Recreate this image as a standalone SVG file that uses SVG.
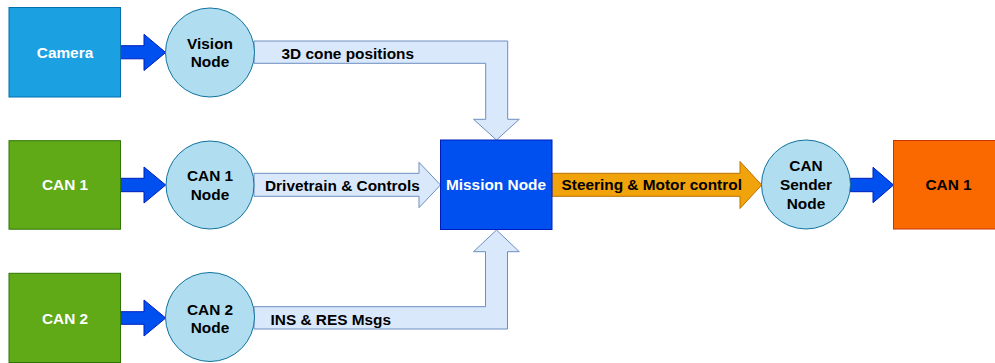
<svg xmlns="http://www.w3.org/2000/svg" width="995" height="363" viewBox="0 0 995 363">
  <style>
    text { font-family: "Liberation Sans", Arial, sans-serif; font-weight: bold; font-size: 15.4px; dominant-baseline: central; }
    .c { text-anchor: middle; }
    .w { fill: #ffffff; }
    .k { fill: #000000; }
    .cam { fill: #1ba1e2; stroke: #006eaf; stroke-width: 1; }
    .can { fill: #60a917; stroke: #2d7600; stroke-width: 1; }
    .out { fill: #fa6800; stroke: #c73500; stroke-width: 1; }
    .mis { fill: #0050ef; stroke: #001dbc; stroke-width: 1; }
    .ros { fill: #b1ddf0; stroke: #10739e; stroke-width: 1; }
    .big { fill: #0050ef; stroke: #001dbc; stroke-width: 1; }
    .msg { fill: #dae8fc; stroke: #6c8ebf; stroke-width: 1; }
    .cmd { fill: #f0a30a; stroke: #bd7000; stroke-width: 1; }
  </style>

  <!-- connectors -->
  <g id="connectors">
    <path class="big" d="M120,45.7 H144 V34.3 L165.7,52.5 L144,70.5 V58.8 H120 Z"/>
    <path class="big" d="M120,178.3 H144 V167 L165.7,185 L144,203 V191.7 H120 Z"/>
    <path class="big" d="M120,311.7 H144 V300 L165.7,318 L144,336 V324.3 H120 Z"/>
    <path class="big" d="M850.5,178.3 H873 V167.3 L893.5,185 L873,202.7 V191.7 H850.5 Z"/>
    <path class="msg" d="M254,41 H507.7 V119.3 H519.3 L496.5,140 L473.5,119.3 H485.7 V63.3 H254 Z"/>
    <path class="msg" d="M254,173.3 H419 V162.3 L440.5,185 L419,207.7 V196.3 H254 Z"/>
    <path class="msg" d="M254,306.7 H485.5 V251.7 H473.5 L496.5,230 L519.3,251.7 H507.5 V329 H254 Z"/>
    <path class="cmd" d="M552,173.3 H740 V161.5 L761.7,185 L740,208.5 V196.3 H552 Z"/>
    <text class="k" x="281.5" y="53">3D cone positions</text>
    <text class="k" x="265" y="185">Drivetrain &amp; Controls</text>
    <text class="k" x="270.5" y="319">INS &amp; RES Msgs</text>
    <text class="k" x="561.5" y="184.5">Steering &amp; Motor control</text>
  </g>

  <g id="camera">
    <rect class="cam" x="9" y="7.5" width="111.5" height="89.5"/>
    <text class="c w" x="65" y="52">Camera</text>
  </g>
  <g id="can1-in">
    <rect class="can" x="9" y="140.7" width="111.5" height="88.5"/>
    <text class="c w" x="65" y="184">CAN 1</text>
  </g>
  <g id="can2-in">
    <rect class="can" x="9" y="273.3" width="111.5" height="89.2"/>
    <text class="c w" x="65" y="318">CAN 2</text>
  </g>

  <g id="vision-node">
    <circle class="ros" cx="210" cy="52.5" r="44.5"/>
    <text class="c k" x="210" y="43.5">Vision</text>
    <text class="c k" x="210" y="61.5">Node</text>
  </g>
  <g id="can1-node">
    <circle class="ros" cx="210" cy="185" r="44"/>
    <text class="c k" x="210" y="175.5">CAN 1</text>
    <text class="c k" x="210" y="194">Node</text>
  </g>
  <g id="can2-node">
    <circle class="ros" cx="210" cy="317" r="44.5"/>
    <text class="c k" x="210" y="309.5">CAN 2</text>
    <text class="c k" x="210" y="327.5">Node</text>
  </g>

  <g id="mission-node">
    <rect class="mis" x="440.5" y="140" width="111.5" height="89.5"/>
    <text class="c w" x="496" y="184.5">Mission Node</text>
  </g>

  <g id="can-sender-node">
    <circle class="ros" cx="806" cy="184.5" r="44.5"/>
    <text class="c k" x="806" y="165">CAN</text>
    <text class="c k" x="806" y="184">Sender</text>
    <text class="c k" x="806" y="203">Node</text>
  </g>

  <g id="can1-out">
    <rect class="out" x="893.5" y="140.5" width="111" height="88.5"/>
    <text class="c k" x="948.5" y="184">CAN 1</text>
  </g>
</svg>
